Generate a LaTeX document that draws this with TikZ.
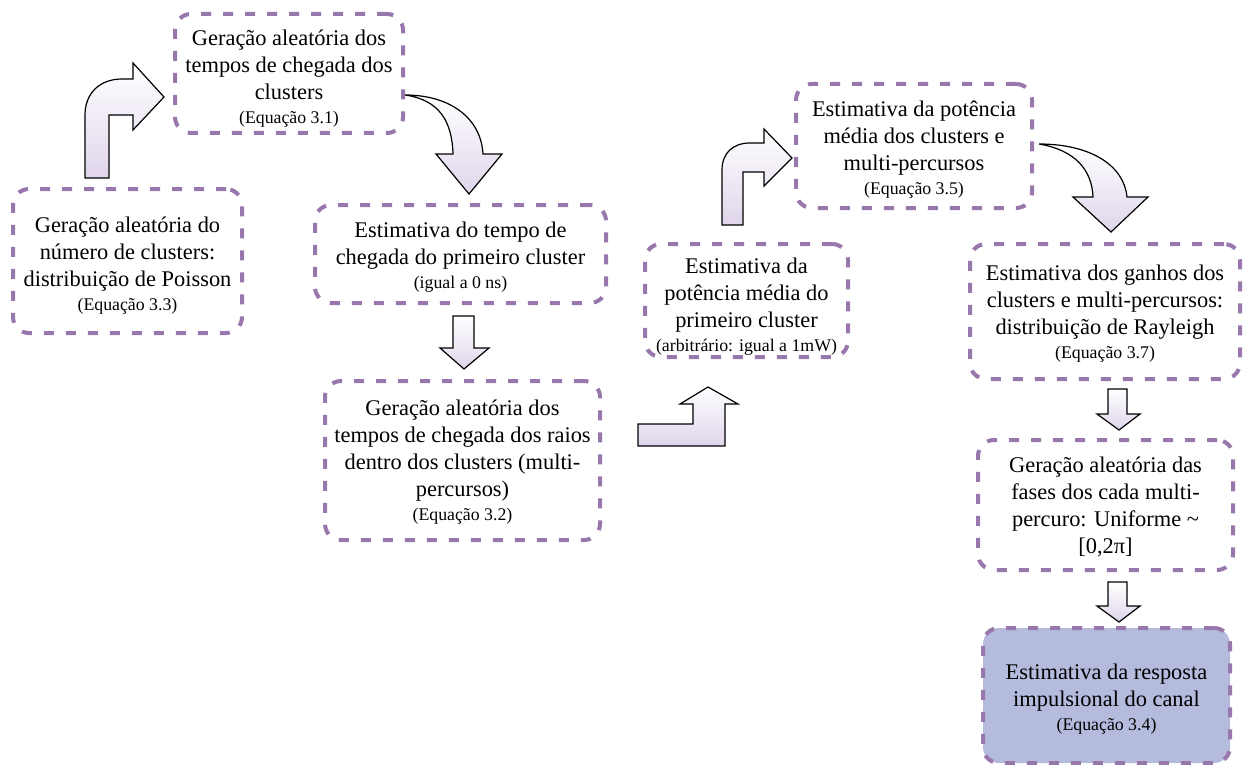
\documentclass[tikz,border=0pt]{standalone}
\usepackage{fontspec}
\setmainfont{Liberation Serif}
\usetikzlibrary{fit,calc}
\definecolor{boxpurple}{RGB}{152,120,172}
\definecolor{arrowlav}{RGB}{224,213,235}
\definecolor{finalfill}{RGB}{181,187,221}
\newcommand{\mainsz}{\fontsize{11.2}{13.5}\selectfont}
\newcommand{\smallsz}{\fontsize{8.9}{12}\selectfont}
\tikzset{
  flowbox/.style={draw=boxpurple, line width=2pt, dash pattern=on 5pt off 6pt, rounded corners=8pt, inner sep=0pt},
  boxtext/.style={align=center, font=\mainsz, inner sep=0pt},
  blockarrow/.style={draw=black, line width=0.6pt, top color=white, bottom color=arrowlav, line join=miter},
}
\begin{document}
\begin{tikzpicture}[x=0.5pt, y=-0.5pt]
\useasboundingbox (0,0) rectangle (1247,765);

% boxes
\node[flowbox, fit={(175,14) (403,133)}] (A) {};
\node[flowbox, fit={(13,189) (242,333)}] (B) {};
\node[flowbox, fit={(315,205) (606,303)}] (C) {};
\node[flowbox, fit={(325,381) (600,540)}] (D) {};
\node[flowbox, fit={(645,244) (848,357)}] (E) {};
\node[flowbox, fit={(796,84) (1032,208)}] (F) {};
\node[flowbox, fit={(970,244) (1240,379)}] (G) {};
\node[flowbox, fit={(978,440) (1233,570)}] (H) {};
\node[flowbox, fill=finalfill, fit={(983,628) (1230,763)}] (I) {};

% texts
\node[boxtext] (At) at ($(A.center)+(0,5)$) {Geração aleatória dos\\tempos de chegada dos\\clusters\\[-1.5pt]{\smallsz (Equação 3.1)}};
\node[boxtext] (Bt) at ($(B.center)+(0,5)$) {Geração aleatória do\\número de clusters:\\distribuição de Poisson\\[-1.5pt]{\smallsz (Equação 3.3)}};
\node[boxtext] (Ct) at ($(C.center)+(0,3)$) {Estimativa do tempo de\\chegada do primeiro cluster\\[-1.5pt]{\smallsz (igual a 0 ns)}};
\node[boxtext] (Dt) at ($(D.center)+(0,2)$) {Geração aleatória dos\\tempos de chegada dos raios\\dentro dos clusters (multi-\\percursos)\\[-1.5pt]{\smallsz (Equação 3.2)}};
\node[boxtext] (Et) at ($(E.center)+(0,6)$) {Estimativa da\\potência média do\\primeiro cluster\\[-1.5pt]{\smallsz (arbitrário: igual a 1mW)}};
\node[boxtext] (Ft) at ($(F.center)+(0,4)$) {Estimativa da potência\\média dos clusters e\\multi-percursos\\[-1.5pt]{\smallsz (Equação 3.5)}};
\node[boxtext] (Gt) at ($(G.center)+(0,2)$) {Estimativa dos ganhos dos\\clusters e multi-percursos:\\distribuição de Rayleigh\\[-1.5pt]{\smallsz (Equação 3.7)}};
\node[boxtext] (Ht) at ($(H.center)+(0,2)$) {Geração aleatória das\\fases dos cada multi-\\percuro: Uniforme \textasciitilde\\{[}0,2π{]}};
\node[boxtext] (It) at ($(I.center)+(0,4)$) {Estimativa da resposta\\impulsional do canal\\[-1.5pt]{\smallsz (Equação 3.4)}};

% bent arrow B -> A
\path[blockarrow] (85,178) -- (85,115) .. controls (85,93) and (100,79) .. (122,79) -- (133,79) -- (133,63) -- (164,97) -- (133,130) -- (133,115) -- (109,115) -- (109,178) -- cycle;

% curved arrow A -> C
\path[blockarrow] (405,95) .. controls (450,95) and (481,118) .. (483,154) -- (502,154) -- (469,194) -- (436,154) -- (453,154) .. controls (452,122) and (440,100) .. (405,95) -- cycle;

% down arrow C -> D
\path[blockarrow] (453,316) -- (474,316) -- (474,348) -- (489,348) -- (464,369) -- (440,348) -- (453,348) -- cycle;

% step arrow D -> E
\path[blockarrow] (638,446) -- (725,446) -- (725,404) -- (738,404) -- (708,387) -- (680,404) -- (693,404) -- (693,424) -- (638,424) -- cycle;

% bent arrow E -> F
\path[blockarrow] (722,225) -- (722,170) .. controls (722,153) and (733,143) .. (750,143) -- (764,143) -- (764,129) -- (792,158) -- (764,186) -- (764,172) -- (743,172) -- (743,225) -- cycle;

% curved arrow F -> G
\path[blockarrow] (1039,144) .. controls (1090,144) and (1124,165) .. (1127,197) -- (1148,197) -- (1111,232) -- (1073,197) -- (1093,197) .. controls (1092,170) and (1075,150) .. (1039,144) -- cycle;

% down arrow G -> H
\path[blockarrow] (1108,389) -- (1127,389) -- (1127,414) -- (1140,414) -- (1119,430) -- (1097,414) -- (1108,414) -- cycle;

% down arrow H -> I
\path[blockarrow] (1108,582) -- (1127,582) -- (1127,606) -- (1140,606) -- (1119,622) -- (1097,606) -- (1108,606) -- cycle;
\end{tikzpicture}
\end{document}
